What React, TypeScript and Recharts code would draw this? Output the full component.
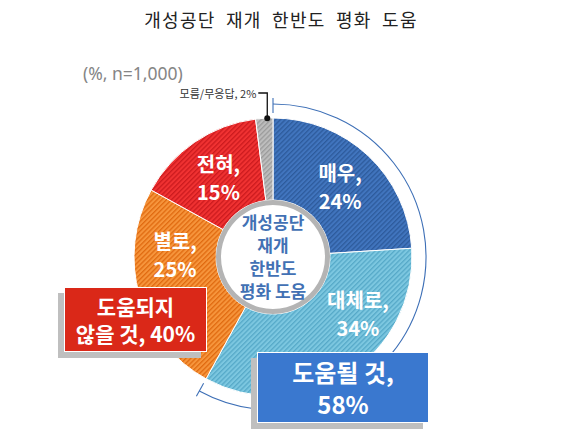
import React from 'react';
import { PieChart, Pie, Cell } from 'recharts';

// 응답 분포 (%, n=1,000)
const categories = ['매우', '대체로', '별로', '전혀', '모름/무응답'];
const values = [24, 34, 25, 15, 2];

// 묶음 응답
const groupNames = ['도움될 것', '도움되지 않을 것'];
const groupValues = [58, 40];

const title = '개성공단 재개 한반도 평화 도움';
const centerLines = ['개성공단', '재개', '한반도', '평화 도움'];
const sampleNote = '(%, n=1,000)';

const FONT = '"Noto Sans CJK KR", "Noto Sans", sans-serif';
const RAD = Math.PI / 180;

const FILLS = ['url(#hDark)', 'url(#hLight)', 'url(#hOrange)', 'url(#hRed)', 'url(#hGray)'];
// 라벨 위치 보정 (각도, 반지름)
const LABEL_SHIFT = [0, 24, -18, 0];
const LABEL_RADIUS = [98, 102, 98, 97];

const mainData = categories.map((name, i) => ({ name, value: values[i] }));
const arcData = [
  { name: groupNames[0], value: groupValues[0] },
  { name: 'rest', value: 100 - groupValues[0] },
];
const ringData = [{ name: 'ring', value: 1 }];

const Hatch = ({ id, base, stripe }: { id: string; base: string; stripe: string }) => (
  <pattern id={id} width={3.4} height={3.4} patternUnits="userSpaceOnUse" patternTransform="rotate(45)">
    <rect width={3.4} height={3.4} fill={base} />
    <rect width={1.3} height={3.4} fill={stripe} />
  </pattern>
);

const renderSliceLabel = (props: any) => {
  const { cx, cy, midAngle, outerRadius, index } = props;
  if (index === values.length - 1) {
    const x = cx + outerRadius * Math.cos(-midAngle * RAD) + 3;
    const y = cy + outerRadius * Math.sin(-midAngle * RAD);
    const top = cy - outerRadius - 25;
    return (
      <g>
        <polyline
          points={`${x},${y} ${x},${top} ${x - 9},${top}`}
          fill="none"
          stroke="#111"
          strokeWidth={1.3}
        />
        <circle cx={x} cy={y} r={3} fill="#111" />
        <text x={x - 11} y={top} textAnchor="end" dominantBaseline="central" fontSize={11} fill="#333" fontFamily={FONT}>
          {`${categories[index]}, ${values[index]}%`}
        </text>
      </g>
    );
  }
  const a = midAngle + LABEL_SHIFT[index];
  const r = LABEL_RADIUS[index];
  const x = cx + r * Math.cos(-a * RAD);
  const y = cy + r * Math.sin(-a * RAD);
  return (
    <text x={x} y={y} textAnchor="middle" fill="#fff" fontSize={20} fontWeight={700} fontFamily={FONT}>
      <tspan x={x} dy={-5}>{`${categories[index]},`}</tspan>
      <tspan x={x} dy={28}>{`${values[index]}%`}</tspan>
    </text>
  );
};

const renderArcLabel = (props: any) => {
  if (props.index !== 0) return null;
  const { cx, cy, startAngle, endAngle, outerRadius } = props;
  const pt = (a: number, rr: number) => [cx + rr * Math.cos(-a * RAD), cy + rr * Math.sin(-a * RAD)];
  const r = outerRadius;
  const [x0, y0] = pt(startAngle, r);
  const [x1, y1] = pt(endAngle, r);
  const large = Math.abs(endAngle - startAngle) > 180 ? 1 : 0;
  const [ta0, tb0] = [pt(startAngle, r - 9), pt(startAngle, r + 6)];
  const [ta1, tb1] = [pt(endAngle, r - 9), pt(endAngle, r + 6)];
  return (
    <g fill="none" stroke="#3d6fb6" strokeWidth={1.1}>
      <path d={`M${x0},${y0} A${r},${r} 0 ${large} 1 ${x1},${y1}`} />
      <line x1={ta0[0]} y1={ta0[1]} x2={tb0[0]} y2={tb0[1]} />
      <line x1={ta1[0]} y1={ta1[1]} x2={tb1[0]} y2={tb1[1]} />
    </g>
  );
};

const App: React.FC = () => {
  return (
    <div
      style={{
        position: 'absolute',
        left: 0,
        top: 0,
        width: 575,
        height: 443,
        background: '#fff',
        fontFamily: FONT,
        overflow: 'hidden',
      }}
    >
      <svg width={0} height={0} style={{ position: 'absolute' }}>
        <defs>
          <Hatch id="hDark" base="#4175be" stripe="#2d5b9c" />
          <Hatch id="hLight" base="#7cc7e0" stripe="#56a9c8" />
          <Hatch id="hOrange" base="#f6953c" stripe="#e06a10" />
          <Hatch id="hRed" base="#f03232" stripe="#cc1a1e" />
          <Hatch id="hGray" base="#bdbdbd" stripe="#9b9b9b" />
        </defs>
      </svg>

      <div
        style={{
          position: 'absolute',
          left: 0,
          width: 562,
          top: 6,
          textAlign: 'center',
          fontSize: 18,
          letterSpacing: 1.3,
          wordSpacing: 5,
          color: '#222',
          fontFamily: '"Noto Sans CJK KR", serif',
        }}
      >
        {title}
      </div>

      <div style={{ position: 'absolute', left: 83, top: 61, fontSize: 17.5, color: '#858585', fontFamily: '"Noto Sans", sans-serif' }}>
        {sampleNote}
      </div>

      <div style={{ position: 'absolute', left: 0, top: 0 }}>
        <PieChart width={575} height={443} margin={{ top: 0, right: 0, bottom: 0, left: 0 }}>
          <Pie
            data={arcData}
            dataKey="value"
            cx={273}
            cy={257}
            startAngle={90}
            endAngle={-270}
            innerRadius={152}
            outerRadius={153}
            fill="none"
            stroke="none"
            label={renderArcLabel}
            labelLine={false}
            isAnimationActive={false}
          />
          <Pie
            data={mainData}
            dataKey="value"
            cx={273}
            cy={257}
            startAngle={90}
            endAngle={-270}
            innerRadius={57}
            outerRadius={139}
            stroke="#fff"
            strokeWidth={1}
            label={renderSliceLabel}
            labelLine={false}
            isAnimationActive={false}
          >
            {mainData.map((d, i) => (
              <Cell key={d.name} fill={FILLS[i]} />
            ))}
          </Pie>
          <Pie
            data={ringData}
            dataKey="value"
            cx={273}
            cy={257}
            innerRadius={52}
            outerRadius={57}
            fill="#b4b4b4"
            stroke="none"
            isAnimationActive={false}
          />
        </PieChart>
      </div>

      <div
        style={{
          position: 'absolute',
          left: 213,
          width: 120,
          top: 210,
          textAlign: 'center',
          fontSize: 17,
          lineHeight: '23px',
          fontWeight: 700,
          color: '#4271b4',
        }}
      >
        {centerLines.map(l => (
          <div key={l}>{l}</div>
        ))}
      </div>

      <div
        style={{
          position: 'absolute',
          left: 64,
          top: 287,
          width: 141,
          height: 63,
          background: '#da2818',
          border: '1px solid #fff',
          boxShadow: '-6px 6px 0 #bfbfbf',
          color: '#fff',
          fontWeight: 700,
          fontSize: 21,
          lineHeight: '27px',
          textAlign: 'center',
          display: 'flex',
          flexDirection: 'column',
          justifyContent: 'center',
        }}
      >
        <div>도움되지</div>
        <div>{`않을 것, ${groupValues[1]}%`}</div>
      </div>

      <div
        style={{
          position: 'absolute',
          left: 257,
          top: 352,
          width: 170,
          height: 69,
          background: '#3a78cf',
          border: '1px solid #fff',
          boxShadow: '-6px 6px 0 #bfbfbf',
          color: '#fff',
          fontWeight: 700,
          fontSize: 24,
          lineHeight: '32px',
          textAlign: 'center',
          display: 'flex',
          flexDirection: 'column',
          justifyContent: 'center',
        }}
      >
        <div>{`${groupNames[0]},`}</div>
        <div>{`${groupValues[0]}%`}</div>
      </div>
    </div>
  );
};

export default App;
